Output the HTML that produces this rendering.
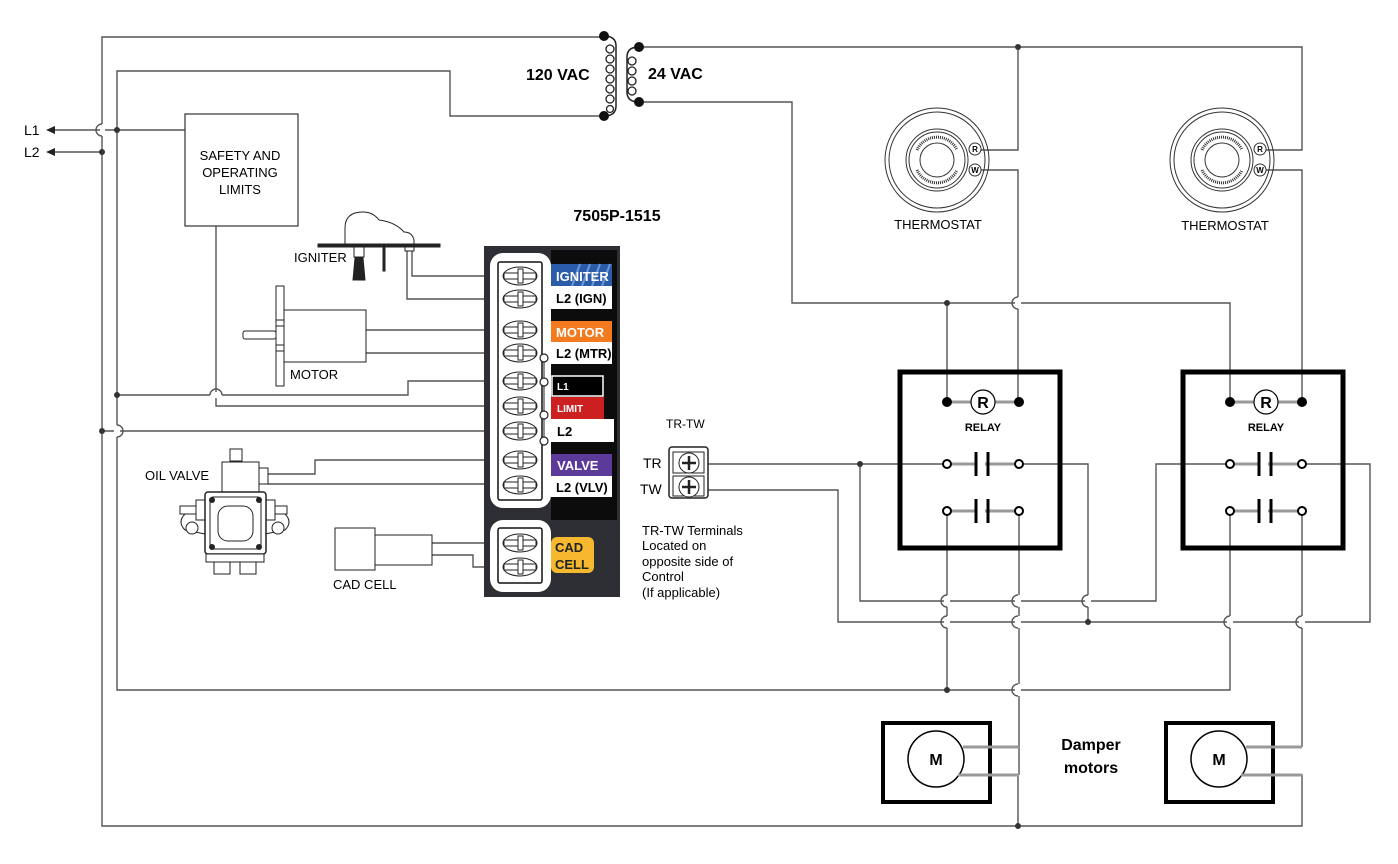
<!DOCTYPE html>
<html><head><meta charset="utf-8"><style>
html,body{margin:0;padding:0;background:#fff;}
svg{display:block;font-family:"Liberation Sans",Arial,sans-serif;}
</style></head><body>
<svg width="1398" height="864" viewBox="0 0 1398 864" xmlns="http://www.w3.org/2000/svg">
<defs>
<g id="scr">
  <ellipse cx="0" cy="0" rx="17" ry="9" fill="#fff" stroke="#222" stroke-width="1"/>
  <rect x="-16" y="-3" width="32" height="6" fill="#fff" stroke="#222" stroke-width="1"/>
  <rect x="-2" y="-7" width="5" height="14" fill="#fff" stroke="#222" stroke-width="1"/>
</g>
<g id="tst">
  <circle r="52" fill="none" stroke="#333" stroke-width="1"/>
  <circle r="48" fill="none" stroke="#333" stroke-width="1"/>
  <circle r="31" fill="none" stroke="#333" stroke-width="1"/>
  <circle r="28" fill="none" stroke="#333" stroke-width="1"/>
  <circle r="17" fill="none" stroke="#333" stroke-width="1"/>
  <path d="M-20,-10 A22,22 0 0 1 20,-10 M-20,10 A22,22 0 0 0 20,10" fill="none" stroke="#333" stroke-width="3" stroke-dasharray="1 1"/>
  <circle cx="38" cy="-11" r="6" fill="#fff" stroke="#333"/>
  <text x="38" y="-8" font-size="8" font-weight="bold" text-anchor="middle">R</text>
  <circle cx="38" cy="10" r="6" fill="#fff" stroke="#333"/>
  <text x="38" y="13" font-size="8" font-weight="bold" text-anchor="middle">W</text>
</g>
<g id="relay">
  <rect x="0" y="0" width="160" height="176" fill="none" stroke="#000" stroke-width="5"/>
  <line x1="47" y1="30" x2="119" y2="30" stroke="#999" stroke-width="3"/>
  <circle cx="47" cy="30" r="5" fill="#000"/><circle cx="119" cy="30" r="5" fill="#000"/>
  <circle cx="83" cy="30" r="12" fill="#fff" stroke="#000" stroke-width="1.2"/>
  <text x="83" y="36" font-size="16" font-weight="bold" text-anchor="middle">R</text>
  <text x="83" y="59" font-size="11" font-weight="bold" text-anchor="middle">RELAY</text>
  <line x1="47" y1="92" x2="119" y2="92" stroke="#999" stroke-width="3"/>
  <line x1="47" y1="139" x2="119" y2="139" stroke="#999" stroke-width="3"/>
  <rect x="75" y="80" width="10" height="24" fill="#fff"/>
  <rect x="75" y="127" width="10" height="24" fill="#fff"/>
  <line x1="76" y1="80" x2="76" y2="104" stroke="#000" stroke-width="3"/>
  <line x1="88" y1="80" x2="88" y2="104" stroke="#000" stroke-width="3"/>
  <line x1="76" y1="127" x2="76" y2="151" stroke="#000" stroke-width="3"/>
  <line x1="88" y1="127" x2="88" y2="151" stroke="#000" stroke-width="3"/>
  <circle cx="47" cy="92" r="4" fill="#fff" stroke="#000" stroke-width="2"/>
  <circle cx="119" cy="92" r="4" fill="#fff" stroke="#000" stroke-width="2"/>
  <circle cx="47" cy="139" r="4" fill="#fff" stroke="#000" stroke-width="2"/>
  <circle cx="119" cy="139" r="4" fill="#fff" stroke="#000" stroke-width="2"/>
</g>
<g id="dm">
  <rect x="0" y="0" width="107" height="79" fill="#fff" stroke="#000" stroke-width="4"/>
  <circle cx="53" cy="36" r="28" fill="#fff" stroke="#000" stroke-width="1.5"/>
  <text x="53" y="42" font-size="16" font-weight="bold" text-anchor="middle">M</text>
</g>
</defs>

<!-- wires -->
<g fill="none" stroke="#555" stroke-width="1.4">
  <path d="M604,37 H102 V826 H1302 V775 H1245"/>
  <path d="M1018,826 V775 H962"/>
  <path d="M604,116 H450 V71 H117 V690 H1230 V511"/>
  <path d="M48,130 H185"/>
  <path d="M48,152 H102"/>
  <path d="M216,226 V406 H500"/>
  <path d="M117,395 H408 V381 H500"/>
  <path d="M102,431 H500"/>
  <path d="M412,250 V276 H500"/>
  <path d="M407,250 V299 H500"/>
  <path d="M366,330 H500 M366,353 H500"/>
  <path d="M268,474 H315 V460 H500 M268,484 H500"/>
  <path d="M432,543 H500 M432,555 H473 V567 H500"/>
  <path d="M639,47 H1302 V150 H1260"/>
  <path d="M1018,47 V150 H980"/>
  <path d="M980,170 H1018 V402"/>
  <path d="M1260,170 H1302 V402"/>
  <path d="M639,102 H792 V303 H1230 V402"/>
  <path d="M947,303 V402"/>
  <path d="M708,464 H947"/>
  <path d="M860,464 V601 H1156 V464 H1230"/>
  <path d="M708,490 H838 V622 H1370 V464 H1302"/>
  <path d="M1019,464 H1088 V622"/>
  <path d="M947,511 V690"/>
  <path d="M1019,511 V775"/>
  <path d="M1302,511 V747"/>
</g>
<g fill="#fff" stroke="none">
  <rect x="100" y="124" width="5" height="12"/>
  <rect x="114" y="425" width="6" height="12"/>
  <rect x="210" y="392" width="12" height="6"/>
  <rect x="1015" y="297" width="6" height="12"/>
  <rect x="944" y="595" width="6" height="12"/>
  <rect x="1015" y="595" width="6" height="12"/>
  <rect x="1085" y="595" width="6" height="12"/>
  <rect x="944" y="616" width="6" height="12"/>
  <rect x="1015" y="616" width="6" height="12"/>
  <rect x="1227" y="616" width="6" height="12"/>
  <rect x="1299" y="616" width="6" height="12"/>
  <rect x="1015" y="684" width="6" height="12"/>
</g>
<g fill="none" stroke="#555" stroke-width="1.4">
  <path d="M102,124 a6,6 0 0 0 0,12"/>
  <path d="M117,425 a6,6 0 0 1 0,12"/>
  <path d="M210,395 a6,6 0 0 1 12,0"/>
  <path d="M1018,297 a6,6 0 0 0 0,12"/>
  <path d="M947,595 a6,6 0 0 0 0,12"/>
  <path d="M1018,595 a6,6 0 0 0 0,12"/>
  <path d="M1088,595 a6,6 0 0 0 0,12"/>
  <path d="M947,616 a6,6 0 0 0 0,12"/>
  <path d="M1018,616 a6,6 0 0 0 0,12"/>
  <path d="M1230,616 a6,6 0 0 0 0,12"/>
  <path d="M1302,616 a6,6 0 0 0 0,12"/>
  <path d="M1018,684 a6,6 0 0 0 0,12"/>
</g>
<g fill="#333">
  <circle cx="117" cy="130" r="3"/><circle cx="102" cy="152" r="3"/>
  <circle cx="117" cy="395" r="3"/><circle cx="102" cy="431" r="3"/>
  <circle cx="1018" cy="47" r="3"/><circle cx="947" cy="303" r="3"/>
  <circle cx="860" cy="464" r="3"/><circle cx="1088" cy="622" r="3"/>
  <circle cx="947" cy="690" r="3"/><circle cx="1018" cy="826" r="3"/>
</g>
<path d="M46,130 l9,-4 v8z M46,152 l9,-4 v8z" fill="#222"/>
<text x="24" y="135" font-size="14">L1</text>
<text x="24" y="157" font-size="14">L2</text>

<!-- transformer -->
<g fill="none" stroke="#222" stroke-width="1.5">
  <path d="M604,36 q12,0 12,10 V106 q0,10 -12,10"/>
  <path d="M639,47 q-12,0 -12,10 V92 q0,10 12,10"/>
</g>
<g fill="#fff" stroke="#222" stroke-width="1.3">
  <circle cx="610" cy="49" r="4"/><circle cx="610" cy="59" r="4"/><circle cx="610" cy="69" r="4"/><circle cx="610" cy="79" r="4"/><circle cx="610" cy="89" r="4"/><circle cx="610" cy="99" r="4"/><circle cx="610" cy="109" r="3.5"/>
  <circle cx="632" cy="61" r="4"/><circle cx="632" cy="71" r="4"/><circle cx="632" cy="81" r="4"/><circle cx="632" cy="91" r="4"/>
</g>
<g fill="#111"><circle cx="604" cy="36" r="5"/><circle cx="604" cy="116" r="5"/><circle cx="639" cy="47" r="5"/><circle cx="639" cy="102" r="5"/></g>
<text x="526" y="80" font-size="16" font-weight="bold">120 VAC</text>
<text x="648" y="79" font-size="16" font-weight="bold">24 VAC</text>

<rect x="185" y="114" width="113" height="112" fill="#fff" stroke="#333" stroke-width="1.2"/>
<g font-size="13" text-anchor="middle"><text x="240" y="160">SAFETY AND</text><text x="240" y="177">OPERATING</text><text x="240" y="194">LIMITS</text></g>

<!-- igniter -->
<g fill="#fff" stroke="#222" stroke-width="1">
  <path d="M345,245 V228 q0,-16 18,-16 q10,0 16,8 q16,2 25,12 q8,0 10,8 V245 Z"/>
  <rect x="318" y="244" width="122" height="3" fill="#222"/>
  <rect x="354" y="247" width="10" height="10"/>
  <path d="M355,258 h8 l2,22 h-12 z" fill="#222"/>
  <rect x="383" y="247" width="2" height="24" fill="#222"/>
  <rect x="405" y="247" width="9" height="4"/>
</g>
<text x="294" y="262" font-size="13">IGNITER</text>

<!-- motor -->
<g fill="#fff" stroke="#222" stroke-width="1">
  <rect x="276" y="286" width="8" height="100"/>
  <rect x="284" y="310" width="82" height="52"/>
  <rect x="243" y="331" width="33" height="8" rx="2"/>
  <line x1="276" y1="320" x2="284" y2="320"/><line x1="276" y1="326" x2="284" y2="326"/>
  <line x1="276" y1="345" x2="284" y2="345"/><line x1="276" y1="351" x2="284" y2="351"/>
</g>
<text x="290" y="379" font-size="13">MOTOR</text>

<!-- oil valve -->
<g fill="#fff" stroke="#222" stroke-width="1">
  <rect x="230" y="449" width="12" height="12"/>
  <rect x="222" y="462" width="37" height="30"/>
  <rect x="259" y="468" width="9" height="16"/>
  <path d="M185,530 q-8,-8 0,-16 l20,-8 v28z"/>
  <path d="M285,530 q8,-8 0,-16 l-20,-8 v28z"/>
  <circle cx="192" cy="528" r="6"/><circle cx="278" cy="528" r="6"/>
  <rect x="196" y="500" width="10" height="20"/><rect x="265" y="500" width="10" height="20"/>
  <rect x="180" y="506" width="16" height="8"/><rect x="275" y="506" width="12" height="8"/>
  <rect x="205" y="492" width="61" height="62" rx="3" stroke-width="1.5"/>
  <rect x="210" y="497" width="51" height="52" rx="3"/>
  <rect x="218" y="506" width="35" height="35" rx="10"/>
  <rect x="214" y="560" width="16" height="14"/><rect x="240" y="560" width="16" height="14"/>
  <rect x="206" y="554" width="58" height="8"/>
</g>
<g fill="#222"><circle cx="212" cy="500" r="3"/><circle cx="259" cy="500" r="3"/><circle cx="212" cy="547" r="3"/><circle cx="259" cy="547" r="3"/></g>
<text x="145" y="480" font-size="13">OIL VALVE</text>

<g fill="#fff" stroke="#222" stroke-width="1">
  <rect x="335" y="528" width="40" height="42"/>
  <rect x="375" y="535" width="57" height="30"/>
</g>
<text x="333" y="589" font-size="13">CAD CELL</text>

<!-- control -->
<text x="617" y="221" font-size="16" font-weight="bold" text-anchor="middle">7505P-1515</text>
<rect x="484" y="246" width="136" height="351" fill="#2e2f35"/>
<rect x="551" y="250" width="66" height="270" fill="#0c0c0c"/>
<rect x="490" y="253" width="61" height="255" rx="13" fill="#fff"/>
<rect x="498" y="262" width="44" height="238" fill="none" stroke="#111" stroke-width="1.5" rx="2"/>
<rect x="490" y="520" width="61" height="72" rx="13" fill="#fff"/>
<rect x="498" y="528" width="44" height="55" fill="none" stroke="#111" stroke-width="1.5" rx="2"/>
<g>
  <use href="#scr" x="520" y="276"/><use href="#scr" x="520" y="299"/><use href="#scr" x="520" y="330"/><use href="#scr" x="520" y="353"/><use href="#scr" x="520" y="381"/><use href="#scr" x="520" y="406"/><use href="#scr" x="520" y="431"/><use href="#scr" x="520" y="460"/><use href="#scr" x="520" y="485"/><use href="#scr" x="520" y="543"/><use href="#scr" x="520" y="567"/>
</g>
<path d="M544,357 V440" stroke="#222" stroke-width="1"/>
<g fill="#fff" stroke="#222" stroke-width="1.2">
  <circle cx="544" cy="358" r="4"/><circle cx="544" cy="382" r="4"/><circle cx="544" cy="415" r="4"/><circle cx="544" cy="441" r="4"/>
</g>
<g font-size="13" font-weight="bold">
  <rect x="551" y="264" width="61" height="22" fill="#2a5caa"/>
  <path d="M590,264 l-8,22 M600,264 l-8,22 M610,264 l-8,22 M580,264 l-8,22" stroke="#6f97d6" stroke-width="2"/>
  <text x="556" y="281" fill="#fff">IGNITER</text>
  <rect x="551" y="286" width="61" height="23" fill="#fff"/><text x="556" y="303">L2 (IGN)</text>
  <rect x="551" y="321" width="61" height="21" fill="#f47a20"/><text x="556" y="337" fill="#fff">MOTOR</text>
  <rect x="551" y="342" width="61" height="22" fill="#fff"/><text x="556" y="358">L2 (MTR)</text>
  <rect x="552" y="376" width="51" height="20" fill="#000" stroke="#fff" stroke-width="1.5"/><text x="557" y="390" fill="#fff" font-size="10">L1</text>
  <rect x="551" y="397" width="53" height="22" fill="#cc2020"/><text x="557" y="412" fill="#fff" font-size="10">LIMIT</text>
  <rect x="551" y="419" width="63" height="23" fill="#fff"/><text x="557" y="436">L2</text>
  <rect x="551" y="454" width="61" height="22" fill="#5b3a9a"/><text x="557" y="470" fill="#fff">VALVE</text>
  <rect x="551" y="476" width="61" height="21" fill="#fff"/><text x="556" y="492">L2 (VLV)</text>
  <rect x="551" y="537" width="43" height="36" rx="6" fill="#f5b82e"/>
  <text x="555" y="552" fill="#222">CAD</text><text x="555" y="569" fill="#222">CELL</text>
</g>

<!-- TR-TW -->
<text x="666" y="428" font-size="12">TR-TW</text>
<text x="643" y="468" font-size="14">TR</text>
<text x="640" y="494" font-size="14">TW</text>
<rect x="669" y="447" width="39" height="51" rx="3" fill="#fff" stroke="#222" stroke-width="1.5"/>
<rect x="673" y="452" width="31" height="21" fill="#fff" stroke="#222"/>
<rect x="673" y="476" width="31" height="20" fill="#fff" stroke="#222"/>
<circle cx="689" cy="463" r="10" fill="#fff" stroke="#222"/>
<circle cx="689" cy="487" r="10" fill="#fff" stroke="#222"/>
<path d="M682,463 h14 M689,456 v14 M682,487 h14 M689,480 v14" stroke="#222" stroke-width="2.5"/>
<g font-size="13"><text x="642" y="535">TR-TW Terminals</text><text x="642" y="550">Located on</text><text x="642" y="566">opposite side of</text><text x="642" y="581">Control</text><text x="642" y="597">(If applicable)</text></g>

<use href="#tst" x="937" y="160"/>
<use href="#tst" x="1222" y="160"/>
<text x="938" y="229" font-size="13" text-anchor="middle">THERMOSTAT</text>
<text x="1225" y="230" font-size="13" text-anchor="middle">THERMOSTAT</text>

<use href="#relay" x="900" y="372"/>
<use href="#relay" x="1183" y="372"/>

<use href="#dm" x="883" y="723"/>
<use href="#dm" x="1166" y="723"/>
<g stroke="#999" stroke-width="3" fill="none">
  <path d="M963,747 H1019"/><path d="M958,775 H1019"/>
  <path d="M1246,747 H1302"/><path d="M1241,775 H1302"/>
</g>
<text x="1091" y="750" font-size="16" font-weight="bold" text-anchor="middle">Damper</text>
<text x="1091" y="773" font-size="16" font-weight="bold" text-anchor="middle">motors</text>
</svg>
</body></html>
